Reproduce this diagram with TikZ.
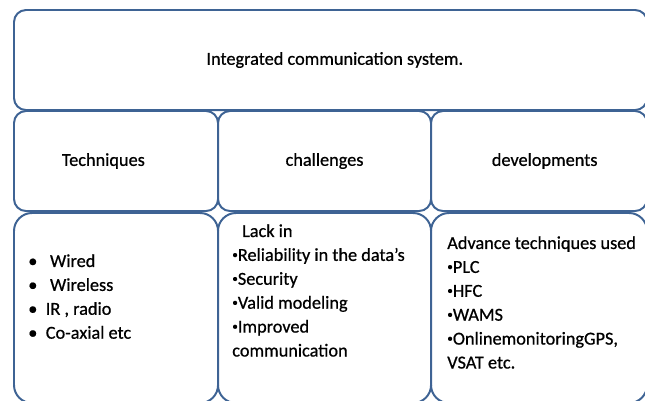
\documentclass[tikz,border=0pt]{standalone}
\usepackage{fontspec}
\setmainfont{Carlito}[FakeBold=0.7]
\usepackage{tikz}
\usetikzlibrary{positioning}
\definecolor{boxblue}{RGB}{62,99,148}
\newcommand{\dotmark}{\raisebox{0.3ex}{\fontsize{8}{8}\selectfont\textbullet}}
\tikzstyle{cell} = [rectangle, draw=boxblue, line width=1.4pt, inner sep=0pt, outer sep=0pt, anchor=north west, font=\fontsize{13}{17}\selectfont]
\tikzstyle{headcell} = [cell, rounded corners=0.3cm, minimum height=2.5cm]
\tikzstyle{listcell} = [cell, rounded corners=0.45cm, minimum height=4.75cm]
\tikzstyle{items} = [anchor=north west, align=left, inner sep=0pt, font=\fontsize{13}{17}\selectfont]

\begin{document}
\begin{tikzpicture}[x=0.025cm, y=-0.025cm]
\useasboundingbox (0,0) rectangle (645,401);
\clip (0,0) rectangle (645,401);
% Top row
\node (system) [headcell, minimum width=15.825cm] at (14,10) {\hspace{6pt}Integrated communication system.};

% Second row
\node (tech) [headcell, minimum width=5.1cm] at (14,111) {Techniques\hspace{18pt}\null};
\node (chall) [headcell, minimum width=5.325cm] at (218,111) {challenges};
\node (devel) [headcell, minimum width=5.4cm] at (431,111) {\hspace{8pt}developments};

% Third row
\node (techbox) [listcell, minimum width=5.1cm] at (14,213) {};
\node (challbox) [listcell, minimum width=5.325cm] at (218,213) {};
\node (develbox) [listcell, minimum width=5.4cm] at (431,213) {};

% Lists
\node (techlist) [items] at (28,254) {\textbullet\hspace{9pt}Wired\\ \textbullet\hspace{9pt}Wireless\\ \textbullet\hspace{6pt}IR , radio\\ \textbullet\hspace{6pt}Co-axial etc};
\node (challlist) [items] at (232,224) {\hspace{7pt}Lack in\\ \dotmark Reliability in the data's\\ \dotmark Security\\ \dotmark Valid modeling\\ \dotmark Improved\\ communication};
\node (devellist) [items] at (447,236) {Advance techniques used\\ \dotmark PLC\\ \dotmark HFC\\ \dotmark WAMS\\ \dotmark OnlinemonitoringGPS,\\ VSAT etc.};
\end{tikzpicture}
\end{document}
